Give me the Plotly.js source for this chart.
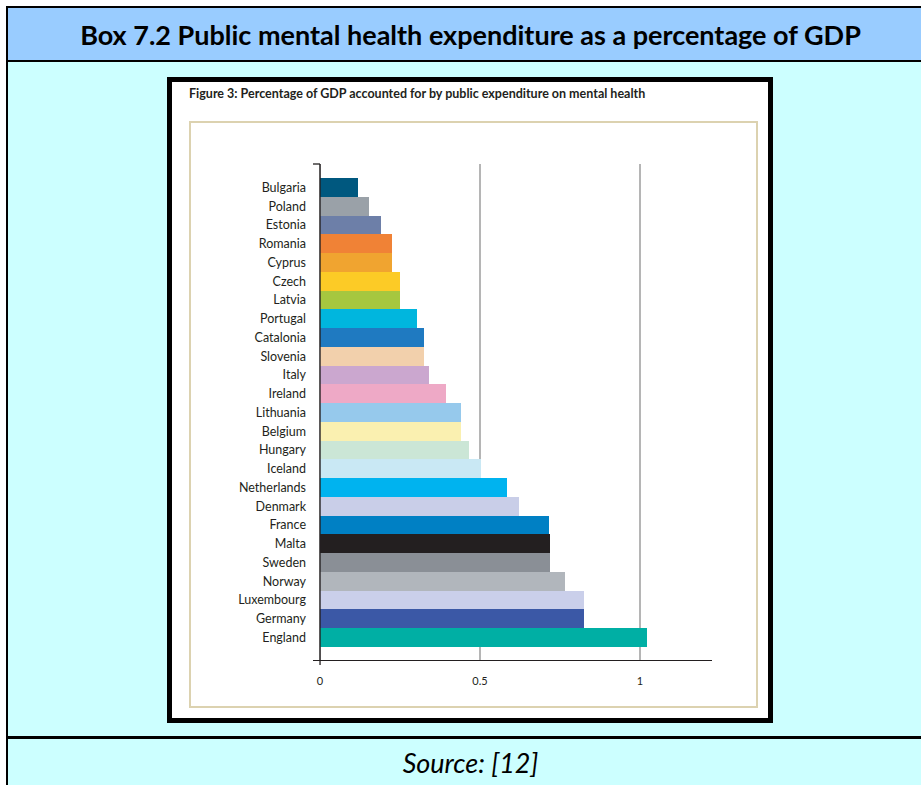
<!DOCTYPE html>
<html>
<head>
<meta charset="utf-8">
<script src="https://cdn.plot.ly/plotly-3.0.1.min.js"></script>
<style>
  html, body { margin:0; padding:0; }
  body { width:921px; height:785px; overflow:hidden; position:relative; background:#ffffff; font-family: Lato, "Liberation Sans", sans-serif; }
  .abs { position:absolute; }
  #chart { position:absolute; left:0; top:0; width:921px; height:785px; z-index:5; }
</style>
</head>
<body>
<div class="abs" style="left:6px;top:6px;width:2px;height:779px;background:#000"></div>
<div class="abs" style="left:6px;top:6px;width:915px;height:2px;background:#000"></div>
<div class="abs" style="left:8px;top:8px;width:913px;height:52px;background:#99CCFF"></div>
<div class="abs" style="left:8px;top:60px;width:913px;height:2px;background:#000"></div>
<div class="abs" style="left:8px;top:62px;width:913px;height:674px;background:#CCFFFF"></div>
<div class="abs" style="left:8px;top:736px;width:913px;height:3px;background:#000"></div>
<div class="abs" style="left:8px;top:739px;width:913px;height:46px;background:#CCFFFF"></div>
<div class="abs" style="left:167px;top:77px;width:606px;height:646px;background:#fff;border:5px solid #000;box-sizing:border-box"></div>
<div class="abs" style="left:189px;top:121px;width:569px;height:587px;border:2px solid #DCD2B0;box-sizing:border-box"></div>
<div class="abs" style="left:8px;top:8px;width:913px;height:52px;display:flex;align-items:center;justify-content:center;font-family:Lato,sans-serif;font-weight:bold;font-size:27px;color:#000;padding-left:12px;box-sizing:border-box">Box 7.2 Public mental health expenditure as a percentage of GDP</div>
<div class="abs" style="left:8px;top:739px;width:913px;height:46px;display:flex;align-items:center;justify-content:center;font-family:Lato,sans-serif;font-style:italic;font-size:27px;color:#000;padding-left:12px;box-sizing:border-box">Source: [12]</div>
<div id="chart"></div>
<script>
const countries = ["Bulgaria","Poland","Estonia","Romania","Cyprus","Czech","Latvia","Portugal","Catalonia","Slovenia","Italy","Ireland","Lithuania","Belgium","Hungary","Iceland","Netherlands","Denmark","France","Malta","Sweden","Norway","Luxembourg","Germany","England"];
const values = [0.119,0.153,0.192,0.224,0.224,0.25,0.25,0.303,0.324,0.324,0.342,0.395,0.439,0.439,0.466,0.503,0.583,0.622,0.714,0.719,0.719,0.766,0.825,0.825,1.021];
const barColors = ["#00587F","#9AA1A8","#6D7FA8","#F08236","#F0A430","#FCCB26","#A6C73F","#00B6DE","#1F7AC1","#F2D0AC","#CBA7CF","#EEA9C6","#96C9EC","#FAF0B0","#CBE6D6","#C9E8F4","#00B3EF","#C9CEE8","#0080C4","#231F20","#8A8F96","#B1B6BC","#CACFEA","#3B58A6","#00AFA4"];
const xTicks = [0, 0.5, 1];
const xTickText = ["0", "0.5", "1"];
const figTitle = "Figure 3: Percentage of GDP accounted for by public expenditure on mental health";

const trace = {
  type: "bar",
  orientation: "h",
  y: countries,
  x: values,
  marker: { color: barColors, line: { width: 0 } },
  hoverinfo: "none"
};

const layout = {
  width: 921, height: 785,
  margin: { l: 313, r: 209, t: 164, b: 125, pad: 0 },
  paper_bgcolor: "rgba(0,0,0,0)",
  plot_bgcolor: "rgba(0,0,0,0)",
  showlegend: false,
  bargap: 0,
  title: {
    text: figTitle,
    xref: "container", x: 189/921, xanchor: "left",
    yref: "container", y: 1 - 94/785, yanchor: "middle",
    font: { family: "Lato, sans-serif", size: 12.5, color: "#231F20", weight: "bold" }
  },
  xaxis: {
    range: [-0.022, 1.225],
    tickvals: xTicks, ticktext: xTickText,
    showline: true, linecolor: "#231F20", linewidth: 1.3,
    showgrid: true, gridcolor: "#B5B5B5", gridwidth: 1.3,
    zeroline: false,
    ticks: "outside", ticklen: 10, tickcolor: "rgba(0,0,0,0)",
    tickfont: { family: "Lato, sans-serif", size: 11, color: "#231F20" },
    fixedrange: true
  },
  yaxis: {
    type: "category",
    categoryorder: "array", categoryarray: countries,
    range: [25.194, -1.247],
    showline: false, showgrid: false, zeroline: false,
    ticks: "", ticklabelstandoff: 6,
    tickfont: { family: "Lato, sans-serif", size: 12.5, color: "#231F20" },
    fixedrange: true
  },
  shapes: [
    { type: "line", xref: "x", yref: "paper", x0: 0, x1: 0, y0: -0.01, y1: 1, line: { color: "#231F20", width: 1.3 } },
    { type: "line", xref: "x", yref: "paper", x0: -0.022, x1: 0, y0: 1, y1: 1, line: { color: "#231F20", width: 1.3 } }
  ]
};

Plotly.newPlot("chart", [trace], layout, { staticPlot: true, displayModeBar: false });
</script>
</body>
</html>
